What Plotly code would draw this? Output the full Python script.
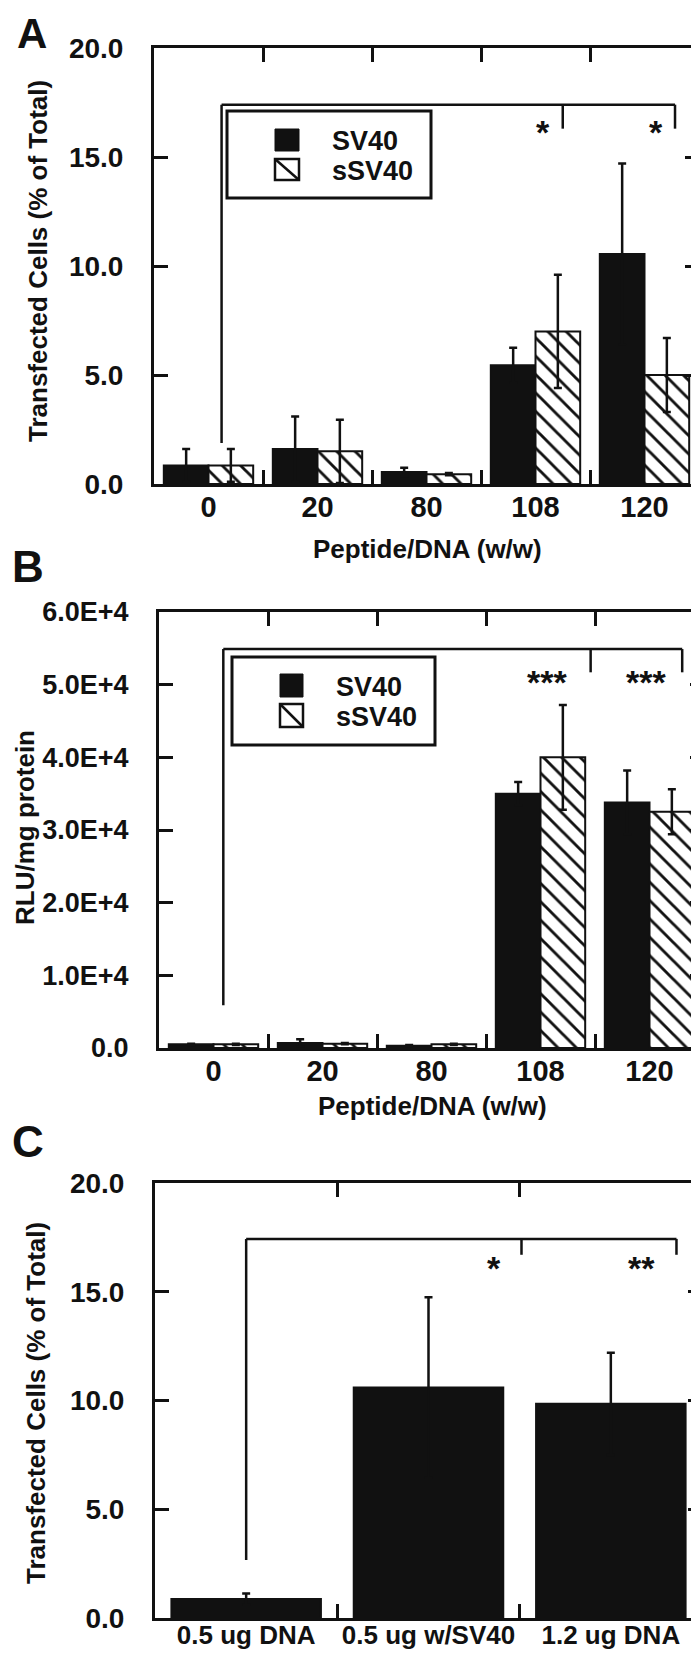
import plotly.graph_objects as go

W, H = 699, 1653

# ---------------- data ----------------
doses = ["0", "20", "80", "108", "120"]

a_sv40 = [0.85, 1.6, 0.55, 5.45, 10.55]
a_sv40_err = [0.75, 1.5, 0.2, 0.8, 4.15]
a_ssv40 = [0.85, 1.5, 0.45, 7.0, 5.0]
a_ssv40_err = [0.75, 1.45, 0.05, 2.6, 1.7]

b_sv40 = [500, 700, 300, 35000, 33800]
b_sv40_err = [100, 500, 100, 1600, 4400]
b_ssv40 = [500, 600, 500, 40000, 32500]
b_ssv40_err = [100, 100, 100, 7200, 3100]

c_groups = ["0.5 ug DNA", "0.5 ug w/SV40", "1.2 ug DNA"]
c_vals = [0.87, 10.6, 9.85]
c_err = [0.26, 4.15, 2.35]

a_yticks = [0, 5, 10, 15, 20]
a_yticklabels = ["0.0", "5.0", "10.0", "15.0", "20.0"]
b_yticks = [0, 10000, 20000, 30000, 40000, 50000, 60000]
b_yticklabels = ["0.0", "1.0E+4", "2.0E+4", "3.0E+4", "4.0E+4", "5.0E+4", "6.0E+4"]

# significance brackets (data units): vertical x positions, their lower ends, top level
a_br_x = [0.12, 3.25, 4.28]
a_br_low = [1.88, 16.3, 16.3]
a_br_top = 17.4
a_star_x = [3.07, 4.11]
a_star_y = [16.55, 16.55]
a_star_txt = ["*", "*"]

b_br_x = [0.09, 3.46, 4.30]
b_br_low = [5900, 51700, 51700]
b_br_top = 54900
b_star_x = [3.06, 3.97]
b_star_y = [51600, 51600]
b_star_txt = ["***", "***"]

c_br_x = [0.0, 1.51, 2.36]
c_br_low = [2.67, 16.7, 16.7]
c_br_top = 17.43
c_star_x = [1.36, 2.17]
c_star_y = [16.5, 16.5]
c_star_txt = ["*", "**"]

# ---------------- styling ----------------
INK = "#111111"
FAM = "Liberation Sans, Arial, Helvetica, sans-serif"


def F(size):
    return dict(family=FAM, size=size, color=INK, weight="bold")


def px(x):
    return x / W


def py(y):
    return 1 - y / H


solid = dict(color=INK, line=dict(color=INK, width=2))
hatch = dict(color="white", line=dict(color=INK, width=2),
             pattern=dict(shape="\\", fgcolor=INK, bgcolor="white", size=13, solidity=0.22))


def err(arr):
    return dict(type="data", array=arr, color=INK, thickness=2.5, width=4)


fig = go.Figure()

# panel A
fig.add_trace(go.Bar(x=doses, y=a_sv40, name="SV40", marker=solid, error_y=err(a_sv40_err),
                     xaxis="x", yaxis="y", showlegend=False))
fig.add_trace(go.Bar(x=doses, y=a_ssv40, name="sSV40", marker=hatch, error_y=err(a_ssv40_err),
                     xaxis="x", yaxis="y", showlegend=False))
# panel B
fig.add_trace(go.Bar(x=doses, y=b_sv40, name="SV40", marker=solid, error_y=err(b_sv40_err),
                     xaxis="x2", yaxis="y2", showlegend=False))
fig.add_trace(go.Bar(x=doses, y=b_ssv40, name="sSV40", marker=hatch, error_y=err(b_ssv40_err),
                     xaxis="x2", yaxis="y2", showlegend=False))
# panel C
fig.add_trace(go.Bar(x=c_groups, y=c_vals, name="C", marker=solid, error_y=err(c_err),
                     xaxis="x3", yaxis="y3", showlegend=False))


def xax(domain, anchor, n, fsize, standoff):
    return dict(domain=domain, anchor=anchor, type="category", range=[-0.5, n - 0.5],
                tickson="boundaries", ticks="inside", ticklen=14, tickwidth=2.5, tickcolor=INK,
                showline=True, linewidth=3, linecolor=INK, mirror="ticks",
                showgrid=False, zeroline=False, tickfont=F(fsize), tickangle=0,
                ticklabelstandoff=standoff, automargin=False)


def yax(domain, anchor, rng, vals, text, fsize):
    return dict(domain=domain, anchor=anchor, range=rng, tickvals=vals, ticktext=text,
                ticks="inside", ticklen=14, tickwidth=2.5, tickcolor=INK,
                showline=True, linewidth=3, linecolor=INK, mirror="ticks",
                showgrid=False, zeroline=False, tickfont=F(fsize),
                ticklabelstandoff=22, automargin=False)


fig.update_layout(
    width=W, height=H, template="none",
    margin=dict(l=0, r=0, t=0, b=0),
    paper_bgcolor="white", plot_bgcolor="white",
    barmode="group", bargap=0.18, bargroupgap=0,
    showlegend=False,
    xaxis=xax([px(146), px(691)], "y", 5, 29, -5),
    yaxis=yax([py(476), py(40)], "x", [0, 20], a_yticks, a_yticklabels, 28),
    xaxis2=xax([px(151), px(696)], "y2", 5, 29, -5),
    yaxis2=yax([py(1040), py(604)], "x2", [0, 60000], b_yticks, b_yticklabels, 27),
    xaxis3=xax([px(147), px(694)], "y3", 3, 26, -8),
    yaxis3=yax([py(1610), py(1175)], "x3", [0, 20], a_yticks, a_yticklabels, 28),
)

shapes = []
annotations = []


def bracket(xref, yref, xs, lows, top, sx, sy, stxt):
    shapes.append(dict(type="line", xref=xref, yref=yref, x0=xs[0], x1=xs[-1], y0=top, y1=top,
                       line=dict(color=INK, width=2.5)))
    for xv, lo in zip(xs, lows):
        shapes.append(dict(type="line", xref=xref, yref=yref, x0=xv, x1=xv, y0=lo, y1=top,
                           line=dict(color=INK, width=2.5)))
    for xv, yv, t in zip(sx, sy, stxt):
        annotations.append(dict(xref=xref, yref=yref, x=xv, y=yv, text=t, showarrow=False,
                                font=F(34), xanchor="center", yanchor="middle", yshift=-9))


bracket("x", "y", a_br_x, a_br_low, a_br_top, a_star_x, a_star_y, a_star_txt)
bracket("x2", "y2", b_br_x, b_br_low, b_br_top, b_star_x, b_star_y, b_star_txt)
bracket("x3", "y3", c_br_x, c_br_low, c_br_top, c_star_x, c_star_y, c_star_txt)


def legend_box(x0, y0, x1, y1, sx0, sx1, r1, r2, tx, t1y, t2y):
    shapes.append(dict(type="rect", xref="paper", yref="paper", x0=px(x0), x1=px(x1),
                       y0=py(y1), y1=py(y0), line=dict(color=INK, width=3), fillcolor="white"))
    shapes.append(dict(type="rect", xref="paper", yref="paper", x0=px(sx0), x1=px(sx1),
                       y0=py(r1[1]), y1=py(r1[0]), line=dict(color=INK, width=1), fillcolor=INK))
    shapes.append(dict(type="rect", xref="paper", yref="paper", x0=px(sx0), x1=px(sx1),
                       y0=py(r2[1]), y1=py(r2[0]), line=dict(color=INK, width=2.5), fillcolor="white"))
    shapes.append(dict(type="line", xref="paper", yref="paper", x0=px(sx0), x1=px(sx1),
                       y0=py(r2[0]), y1=py(r2[1]), line=dict(color=INK, width=2.5)))
    annotations.append(dict(xref="paper", yref="paper", x=px(tx), y=py(t1y), text="SV40",
                            showarrow=False, font=F(27), xanchor="left", yanchor="middle"))
    annotations.append(dict(xref="paper", yref="paper", x=px(tx), y=py(t2y), text="sSV40",
                            showarrow=False, font=F(27), xanchor="left", yanchor="middle"))


legend_box(219, 103, 423, 190, 267, 291, (121, 143), (151, 172), 322, 133, 163)
legend_box(224, 649, 427, 737, 272, 295, (666, 689), (696, 719), 326, 679, 709)


def txt(x, y, t, size, angle=0, yanchor="middle"):
    annotations.append(dict(xref="paper", yref="paper", x=px(x), y=py(y), text=t,
                            showarrow=False, font=F(size), textangle=angle,
                            xanchor="center", yanchor=yanchor))


txt(24, 0, "A", 42, yanchor="top")
txt(20, 558, "B", 44)
txt(20, 1133, "C", 44)
txt(419, 541, "Peptide/DNA (w/w)", 26)
txt(424, 1098, "Peptide/DNA (w/w)", 26)
txt(30, 253, "Transfected Cells (% of Total)", 26, -90)
txt(17, 820, "RLU/mg protein", 26, -90)
txt(28, 1395, "Transfected Cells (% of Total)", 26, -90)

fig.update_layout(shapes=shapes, annotations=annotations)
fig.write_html("out.html")
